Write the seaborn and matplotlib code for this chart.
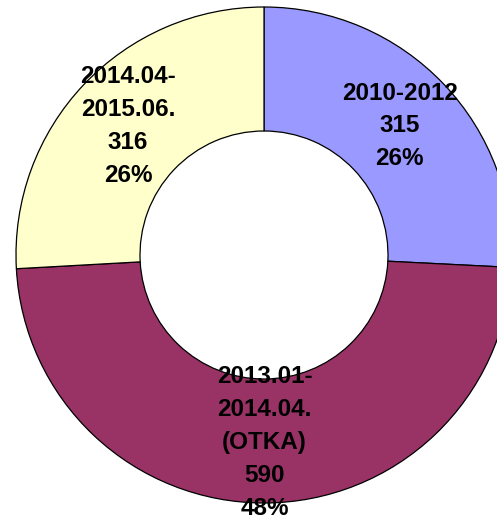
import matplotlib
matplotlib.use("Agg")
import matplotlib.pyplot as plt
import seaborn as sns

# data
periods = ["2010-2012", "2013.01-\n2014.04.\n(OTKA)", "2014.04-\n2015.06."]
counts = [315, 590, 316]
colors = ["#9999FF", "#993366", "#FFFFCC"]

sns.set_theme(style="white")
plt.rcParams["font.family"] = ["Liberation Sans", "DejaVu Sans"]

fig = plt.figure(figsize=(4.97, 5.22), dpi=100)
ax = fig.add_axes([0, 0, 1, 1])

# axes in pixel units so the donut sits where it does in the reference
cx, cy = 264, 255
R = 248
wedges, texts, autotexts = ax.pie(
    counts,
    colors=colors,
    radius=R,
    center=(0, 0),
    startangle=90,
    counterclock=False,
    autopct="%1.0f%%",
    pctdistance=0.755,
    wedgeprops=dict(width=124, edgecolor="black", linewidth=0.9),
    textprops=dict(fontsize=17.5, fontweight="bold", color="black"),
)
for t, lab, n in zip(autotexts, periods, counts):
    t.set_text(f"{lab}\n{n}\n{t.get_text()}")
    t.set_linespacing(1.55)
    t.set_clip_on(False)

ax.set_xlim(-cx, 497 - cx)
ax.set_ylim(-(522 - cy), cy)
ax.set_aspect("equal")
ax.axis("off")

fig.savefig("out.png", dpi=100)
